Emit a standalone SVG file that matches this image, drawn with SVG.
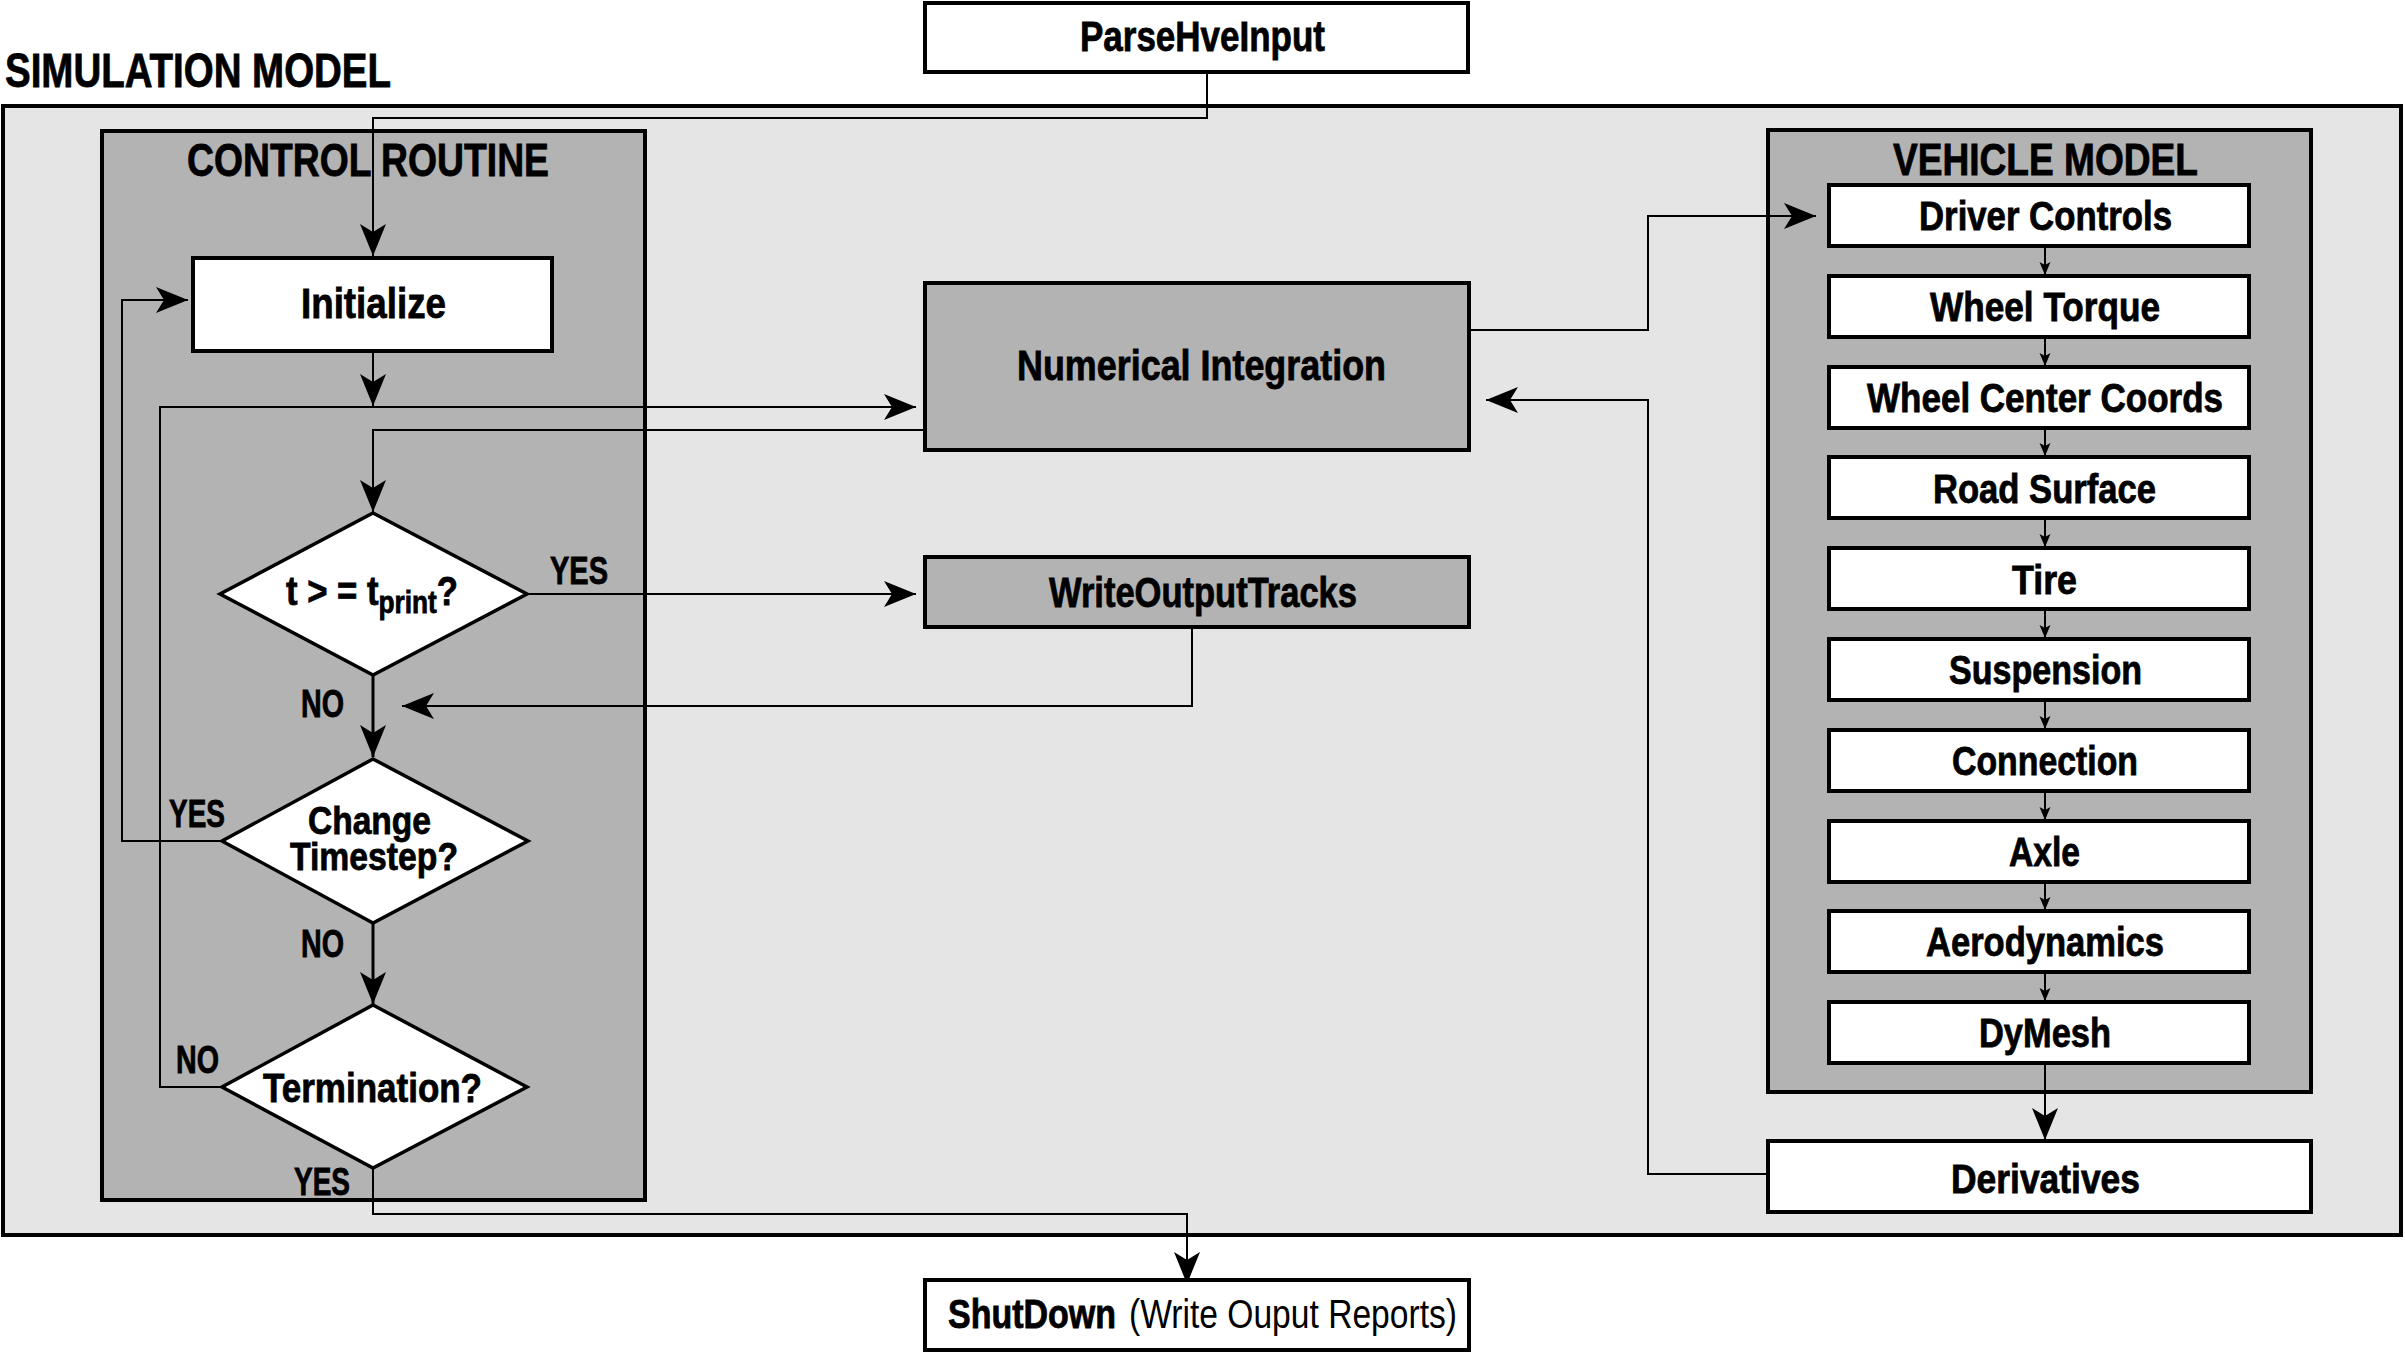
<svg xmlns="http://www.w3.org/2000/svg" width="2405" height="1353" viewBox="0 0 2405 1353">
<style>
.outer{fill:#e5e5e5;stroke:#000;stroke-width:4}
.cont{fill:#b3b3b3;stroke:#000;stroke-width:4}
.box{fill:#fff;stroke:#000;stroke-width:4}
.gbox{fill:#b3b3b3;stroke:#000;stroke-width:4}
.dia{fill:#fff;stroke:#000;stroke-width:3.5}
.conn{fill:none;stroke:#000;stroke-width:2}
.thick{stroke-width:3}
.t{font-family:"Liberation Sans Narrow","Liberation Sans",Arial,sans-serif;font-weight:bold;fill:#000;stroke:#000;stroke-width:0.8}
.r{font-family:"Liberation Sans Narrow","Liberation Sans",Arial,sans-serif;font-weight:normal;fill:#000}
</style>
<defs>
<marker id="ah" markerUnits="userSpaceOnUse" markerWidth="34" markerHeight="28" refX="32" refY="13" orient="auto">
<path d="M0,0 L32,13 L0,26 L8,13 Z" fill="#000"/>
</marker>
<marker id="sa" markerUnits="userSpaceOnUse" markerWidth="14" markerHeight="12" refX="13" refY="5.5" orient="auto">
<path d="M0,0 L13,5.5 L0,11 L3,5.5 Z" fill="#000"/>
</marker>
</defs>
<rect width="2405" height="1353" fill="#fff"/>

<g id="simulation-model">
<rect class="outer" x="3" y="106" width="2398" height="1129"/>
<text class="t" x="5" y="87" font-size="48" textLength="386" lengthAdjust="spacingAndGlyphs">SIMULATION MODEL</text>
</g>
<g id="control-routine">
<rect class="cont" x="102" y="131" width="543" height="1069"/>
<text class="t" x="187" y="176" font-size="47" textLength="362" lengthAdjust="spacingAndGlyphs">CONTROL ROUTINE</text>
</g>
<g id="vehicle-model">
<rect class="cont" x="1768" y="130" width="543" height="962"/>
<text class="t" x="1893" y="175" font-size="45" textLength="305" lengthAdjust="spacingAndGlyphs">VEHICLE MODEL</text>
</g>

<g id="connectors">
<path class="conn" d="M1207,72 V118 H373 V256" marker-end="url(#ah)"/>
<path class="conn" d="M373,351 V406" marker-end="url(#ah)"/>
<path class="conn" d="M222,1087 H160 V407 H916" marker-end="url(#ah)"/>
<path class="conn" d="M925,430 H373 V512" marker-end="url(#ah)"/>
<path class="conn" d="M527,594 H916" marker-end="url(#ah)"/>
<path class="conn" d="M1192,628 V706 H402" marker-end="url(#ah)"/>
<path class="conn thick" d="M373,675 V757" marker-end="url(#ah)"/>
<path class="conn" d="M222,841 H122 V300 H188" marker-end="url(#ah)"/>
<path class="conn thick" d="M373,923 V1004" marker-end="url(#ah)"/>
<path class="conn" d="M373,1168 V1214 H1187 V1284" marker-end="url(#ah)"/>
<path class="conn" d="M1470,330 H1648 V216 H1816" marker-end="url(#ah)"/>
<path class="conn" d="M1768,1174 H1648 V400 H1486" marker-end="url(#ah)"/>
<path class="conn" d="M2045,246 V275" marker-end="url(#sa)"/>
<path class="conn" d="M2045,337 V366" marker-end="url(#sa)"/>
<path class="conn" d="M2045,428 V456" marker-end="url(#sa)"/>
<path class="conn" d="M2045,518 V547" marker-end="url(#sa)"/>
<path class="conn" d="M2045,609 V638" marker-end="url(#sa)"/>
<path class="conn" d="M2045,700 V729" marker-end="url(#sa)"/>
<path class="conn" d="M2045,791 V820" marker-end="url(#sa)"/>
<path class="conn" d="M2045,882 V910" marker-end="url(#sa)"/>
<path class="conn" d="M2045,972 V1001" marker-end="url(#sa)"/>
<path class="conn" d="M2045,1063 V1140" marker-end="url(#ah)"/>
</g>

<g id="parsehveinput">
<rect class="box" x="925" y="3" width="543" height="69"/>
<text class="t" x="1080" y="51" font-size="43" textLength="245" lengthAdjust="spacingAndGlyphs">ParseHveInput</text>
</g>
<g id="initialize">
<rect class="box" x="193" y="258" width="359" height="93"/>
<text class="t" x="301" y="318" font-size="43" textLength="145" lengthAdjust="spacingAndGlyphs">Initialize</text>
</g>
<g id="numerical-integration">
<rect class="gbox" x="925" y="283" width="544" height="167"/>
<text class="t" x="1017" y="380" font-size="43" textLength="369" lengthAdjust="spacingAndGlyphs">Numerical Integration</text>
</g>
<g id="writeoutputtracks">
<rect class="gbox" x="925" y="557" width="544" height="70"/>
<text class="t" x="1049" y="607" font-size="43" textLength="308" lengthAdjust="spacingAndGlyphs">WriteOutputTracks</text>
</g>
<g id="shutdown">
<rect class="box" x="925" y="1280" width="544" height="70"/>
<text class="t" x="948" y="1328" font-size="40" textLength="168" lengthAdjust="spacingAndGlyphs">ShutDown</text>
<text class="r" x="1129" y="1328" font-size="40" textLength="328" lengthAdjust="spacingAndGlyphs">(Write Ouput Reports)</text>
</g>

<g id="decision-print">
<polygon class="dia" points="373,513 527,594 373,675 220,594"/>
<text class="t" x="286" y="605" font-size="41" textLength="172" lengthAdjust="spacingAndGlyphs">t &gt; = t<tspan dy="8" font-size="31">print</tspan><tspan dy="-8">?</tspan></text>
<text class="t" x="550" y="584" font-size="38" textLength="58" lengthAdjust="spacingAndGlyphs">YES</text>
<text class="t" x="301" y="717" font-size="38" textLength="43" lengthAdjust="spacingAndGlyphs">NO</text>
</g>
<g id="decision-timestep">
<polygon class="dia" points="373,759 528,841 373,923 222,841"/>
<text class="t" font-size="39"><tspan x="308" y="834" textLength="123" lengthAdjust="spacingAndGlyphs">Change</tspan><tspan x="290" y="870" textLength="168" lengthAdjust="spacingAndGlyphs">Timestep?</tspan></text>
<text class="t" x="169" y="827" font-size="38" textLength="56" lengthAdjust="spacingAndGlyphs">YES</text>
<text class="t" x="301" y="957" font-size="38" textLength="43" lengthAdjust="spacingAndGlyphs">NO</text>
</g>
<g id="decision-termination">
<polygon class="dia" points="373,1005 527,1087 373,1168 222,1087"/>
<text class="t" x="263" y="1102" font-size="41" textLength="219" lengthAdjust="spacingAndGlyphs">Termination?</text>
<text class="t" x="176" y="1073" font-size="38" textLength="43" lengthAdjust="spacingAndGlyphs">NO</text>
<text class="t" x="294" y="1195" font-size="38" textLength="56" lengthAdjust="spacingAndGlyphs">YES</text>
</g>

<g id="driver-controls"><rect class="box" x="1829" y="185" width="420" height="61"/><text class="t" x="1919" y="230" font-size="41" textLength="253" lengthAdjust="spacingAndGlyphs">Driver Controls</text></g>
<g id="wheel-torque"><rect class="box" x="1829" y="276" width="420" height="61"/><text class="t" x="1930" y="321" font-size="41" textLength="230" lengthAdjust="spacingAndGlyphs">Wheel Torque</text></g>
<g id="wheel-center-coords"><rect class="box" x="1829" y="367" width="420" height="61"/><text class="t" x="1867" y="412" font-size="41" textLength="356" lengthAdjust="spacingAndGlyphs">Wheel Center Coords</text></g>
<g id="road-surface"><rect class="box" x="1829" y="457" width="420" height="61"/><text class="t" x="1933" y="503" font-size="41" textLength="223" lengthAdjust="spacingAndGlyphs">Road Surface</text></g>
<g id="tire"><rect class="box" x="1829" y="548" width="420" height="61"/><text class="t" x="2012" y="594" font-size="41" textLength="65" lengthAdjust="spacingAndGlyphs">Tire</text></g>
<g id="suspension"><rect class="box" x="1829" y="639" width="420" height="61"/><text class="t" x="1949" y="684" font-size="41" textLength="193" lengthAdjust="spacingAndGlyphs">Suspension</text></g>
<g id="connection"><rect class="box" x="1829" y="730" width="420" height="61"/><text class="t" x="1952" y="775" font-size="41" textLength="186" lengthAdjust="spacingAndGlyphs">Connection</text></g>
<g id="axle"><rect class="box" x="1829" y="821" width="420" height="61"/><text class="t" x="2009" y="866" font-size="41" textLength="71" lengthAdjust="spacingAndGlyphs">Axle</text></g>
<g id="aerodynamics"><rect class="box" x="1829" y="911" width="420" height="61"/><text class="t" x="1926" y="956" font-size="41" textLength="238" lengthAdjust="spacingAndGlyphs">Aerodynamics</text></g>
<g id="dymesh"><rect class="box" x="1829" y="1002" width="420" height="61"/><text class="t" x="1979" y="1047" font-size="41" textLength="132" lengthAdjust="spacingAndGlyphs">DyMesh</text></g>
<g id="derivatives"><rect class="box" x="1768" y="1141" width="543" height="71"/><text class="t" x="1951" y="1193" font-size="41" textLength="189" lengthAdjust="spacingAndGlyphs">Derivatives</text></g>
</svg>
